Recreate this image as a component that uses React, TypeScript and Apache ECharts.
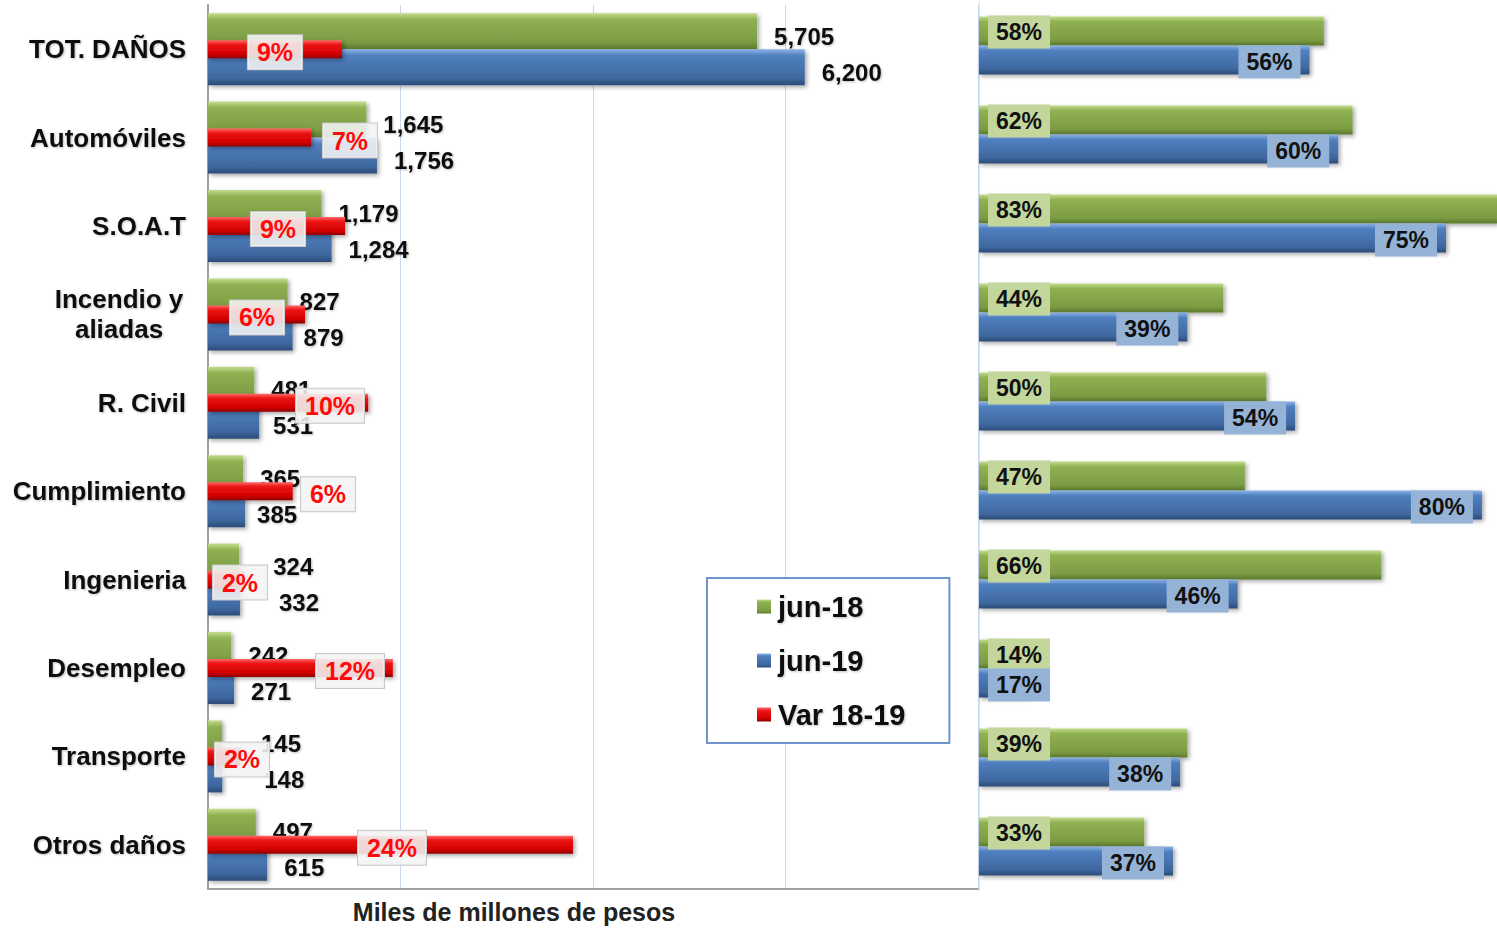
import React, { useEffect, useRef } from "react";
import * as echarts from "echarts";

const categories = [
  "TOT. DAÑOS",
  "Automóviles",
  "S.O.A.T",
  "Incendio y\naliadas",
  "R. Civil",
  "Cumplimiento",
  "Ingenieria",
  "Desempleo",
  "Transporte",
  "Otros daños",
];
const jun18 = [5705, 1645, 1179, 827, 481, 365, 324, 242, 145, 497];
const jun19 = [6200, 1756, 1284, 879, 531, 385, 332, 271, 148, 615];
const var1819 = [8.7, 6.7, 8.9, 6.3, 10.4, 5.5, 2.4, 12.0, 2.1, 23.7];
const pct18 = [58, 62, 83, 44, 50, 47, 66, 14, 39, 33];
const pct19 = [56, 60, 75, 39, 54, 80, 46, 17, 38, 37];
const seriesNames = ["jun-18", "jun-19", "Var 18-19"];
const axisTitle = "Miles de millones de pesos";

// layout helpers (not data): label centre positions (px from the bar start)
// for the variation labels, and extra horizontal shifts of value labels
const varLabelX = [67, 142, 70, 49, 122, 120, 32, 142, 34, 184];
const shift18 = [0, 0, 0, -5, 0, 0, 17, 0, 22, 0];
const shift19 = [0, 0, 0, -6, -3, -5, 22, 0, 25, 0];

const FONT = "'Liberation Sans', Arial, sans-serif";

const grad = (stops: [number, string][]) =>
  new echarts.graphic.LinearGradient(
    0,
    0,
    0,
    1,
    stops.map(([offset, color]) => ({ offset, color }))
  );

const GREEN = () =>
  grad([
    [0, "#c4dc8c"],
    [0.18, "#8fb152"],
    [0.8, "#7b9c43"],
    [1, "#5c7a2e"],
  ]);
const BLUE = () =>
  grad([
    [0, "#8db3e6"],
    [0.18, "#4f7fbf"],
    [0.8, "#3f689f"],
    [1, "#2c4b78"],
  ]);
const RED = () =>
  grad([
    [0, "#ff6a6a"],
    [0.25, "#ec1414"],
    [0.75, "#d40000"],
    [1, "#8e0000"],
  ]);

const barShadow = {
  shadowBlur: 4,
  shadowColor: "rgba(0,0,0,0.35)",
  shadowOffsetX: 2,
  shadowOffsetY: 2,
};

const textShadow = {
  textShadowColor: "rgba(0,0,0,0.25)",
  textShadowBlur: 2,
  textShadowOffsetX: 1,
  textShadowOffsetY: 1,
};

export default function App() {
  const ref = useRef<HTMLDivElement>(null);

  useEffect(() => {
    if (!ref.current) return;
    const chart = echarts.init(ref.current, undefined, { renderer: "svg" });

    const fmt = (v: number) => v.toLocaleString("en-US");

    const valueLabel = {
      show: true,
      position: "right",
      distance: 17,
      formatter: (p: any) => fmt(p.value),
      fontSize: 24,
      fontWeight: "bold",
      color: "#111",
      fontFamily: FONT,
      ...textShadow,
    };

    const option: any = {
      animation: false,
      backgroundColor: "#ffffff",
      textStyle: { fontFamily: FONT },
      grid: [
        { left: 208, top: 5, width: 770, height: 884 },
        { left: 979, top: 1, right: 0, height: 890 },
      ],
      xAxis: [
        {
          gridIndex: 0,
          type: "value",
          min: 0,
          max: 8000,
          interval: 2000,
          axisLabel: { show: false },
          axisTick: { show: false },
          axisLine: { show: true, lineStyle: { color: "#a0a0a0", width: 2 } },
          splitLine: { show: true, lineStyle: { color: "#c9d8ee", width: 1 } },
        },
        {
          gridIndex: 0,
          type: "value",
          min: 0,
          max: 50,
          position: "top",
          show: false,
        },
        {
          gridIndex: 1,
          type: "value",
          min: 10,
          max: 82.1,
          show: false,
        },
      ],
      yAxis: [
        {
          gridIndex: 0,
          type: "category",
          data: categories,
          inverse: true,
          axisTick: { show: false },
          axisLine: { show: true, lineStyle: { color: "#a0a0a0", width: 2 } },
          axisLabel: {
            margin: 22,
            color: "#111",
            fontSize: 26,
            fontWeight: "bold",
            fontFamily: FONT,
            lineHeight: 30,
            ...textShadow,
            formatter: (v: string) =>
              v.indexOf("\n") >= 0
                ? v
                    .split("\n")
                    .map((s) => `{c|${s}}`)
                    .join("\n")
                : v,
            rich: {
              c: {
                width: 134,
                align: "center",
                fontSize: 26,
                fontWeight: "bold",
                fontFamily: FONT,
                color: "#111",
                lineHeight: 30,
                ...textShadow,
              },
            },
          },
        },
        {
          gridIndex: 0,
          type: "category",
          data: categories,
          inverse: true,
          show: false,
        },
        {
          gridIndex: 1,
          type: "category",
          data: categories,
          inverse: true,
          axisTick: { show: false },
          axisLabel: { show: false },
          axisLine: { show: true, lineStyle: { color: "#dbe3ef", width: 1 } },
        },
      ],
      legend: {
        orient: "vertical",
        left: 707,
        top: 578,
        padding: [14, 44, 14, 50],
        itemGap: 25,
        itemWidth: 14,
        itemHeight: 14,
        icon: "rect",
        borderColor: "#6f94cc",
        borderWidth: 2,
        backgroundColor: "#ffffff",
        selectedMode: false,
        data: seriesNames,
        textStyle: {
          fontSize: 29,
          fontWeight: "bold",
          color: "#111",
          fontFamily: FONT,
          padding: [0, 0, 0, 2],
          ...textShadow,
        },
      },
      series: [
        {
          name: seriesNames[0],
          type: "bar",
          xAxisIndex: 0,
          yAxisIndex: 0,
          data: jun18.map((v, i) => ({
            value: v,
            label: { offset: [shift18[i], 5] },
          })),
          barWidth: 36,
          barGap: "0%",
          itemStyle: { color: GREEN(), ...barShadow },
          label: valueLabel,
          z: 2,
        },
        {
          name: seriesNames[1],
          type: "bar",
          xAxisIndex: 0,
          yAxisIndex: 0,
          data: jun19.map((v, i) => ({
            value: v,
            label: { offset: [shift19[i], 5] },
          })),
          barWidth: 36,
          barGap: "0%",
          itemStyle: { color: BLUE(), ...barShadow },
          label: valueLabel,
          z: 2,
        },
        {
          name: seriesNames[2],
          type: "bar",
          xAxisIndex: 1,
          yAxisIndex: 1,
          barWidth: 18,
          itemStyle: { color: RED(), ...barShadow },
          data: var1819.map((v, i) => ({
            value: v,
            label: { position: [varLabelX[i], "50%"] },
          })),
          label: {
            show: true,
            align: "center",
            verticalAlign: "middle",
            offset: [0, 3],
            formatter: (p: any) => `${Math.round(p.value)}%`,
            fontSize: 25,
            fontWeight: "bold",
            color: "#ff0a0a",
            fontFamily: FONT,
            backgroundColor: "rgba(244,244,244,0.88)",
            borderColor: "#c8c8c8",
            borderWidth: 1,
            padding: [4, 9],
            lineHeight: 26,
          },
          z: 5,
        },
        {
          name: seriesNames[0],
          type: "bar",
          xAxisIndex: 2,
          yAxisIndex: 2,
          data: pct18,
          barWidth: 29,
          barGap: "0%",
          clip: true,
          itemStyle: { color: GREEN(), ...barShadow },
          label: {
            show: true,
            position: "insideLeft",
            distance: 9,
            offset: [0, 1],
            formatter: "{c}%",
            fontSize: 23,
            fontWeight: "bold",
            color: "#111",
            fontFamily: FONT,
            backgroundColor: "#c3d69b",
            padding: [5, 8],
            lineHeight: 23,
          },
          z: 2,
        },
        {
          name: seriesNames[1],
          type: "bar",
          xAxisIndex: 2,
          yAxisIndex: 2,
          barWidth: 29,
          barGap: "0%",
          clip: true,
          itemStyle: { color: BLUE(), ...barShadow },
          data: pct19.map((v) =>
            v < 25 ? { value: v, label: { position: "insideLeft" } } : v
          ),
          label: {
            show: true,
            position: "insideRight",
            distance: 9,
            offset: [0, 2],
            formatter: "{c}%",
            fontSize: 23,
            fontWeight: "bold",
            color: "#111",
            fontFamily: FONT,
            backgroundColor: "#95b3d7",
            padding: [5, 8],
            lineHeight: 23,
          },
          z: 2,
        },
      ],
      graphic: [
        {
          type: "text",
          x: 514,
          y: 912,
          style: {
            text: axisTitle,
            fontSize: 25,
            fontWeight: "bold",
            fontFamily: FONT,
            fill: "#222",
            align: "center",
            verticalAlign: "middle",
            textAlign: "center",
            textVerticalAlign: "middle",
          },
        },
      ],
    };

    chart.setOption(option);
    return () => chart.dispose();
  }, []);

  return (
    <div
      ref={ref}
      style={{
        position: "fixed",
        left: 0,
        top: 0,
        width: 1497,
        height: 929,
        background: "#fff",
      }}
    />
  );
}
